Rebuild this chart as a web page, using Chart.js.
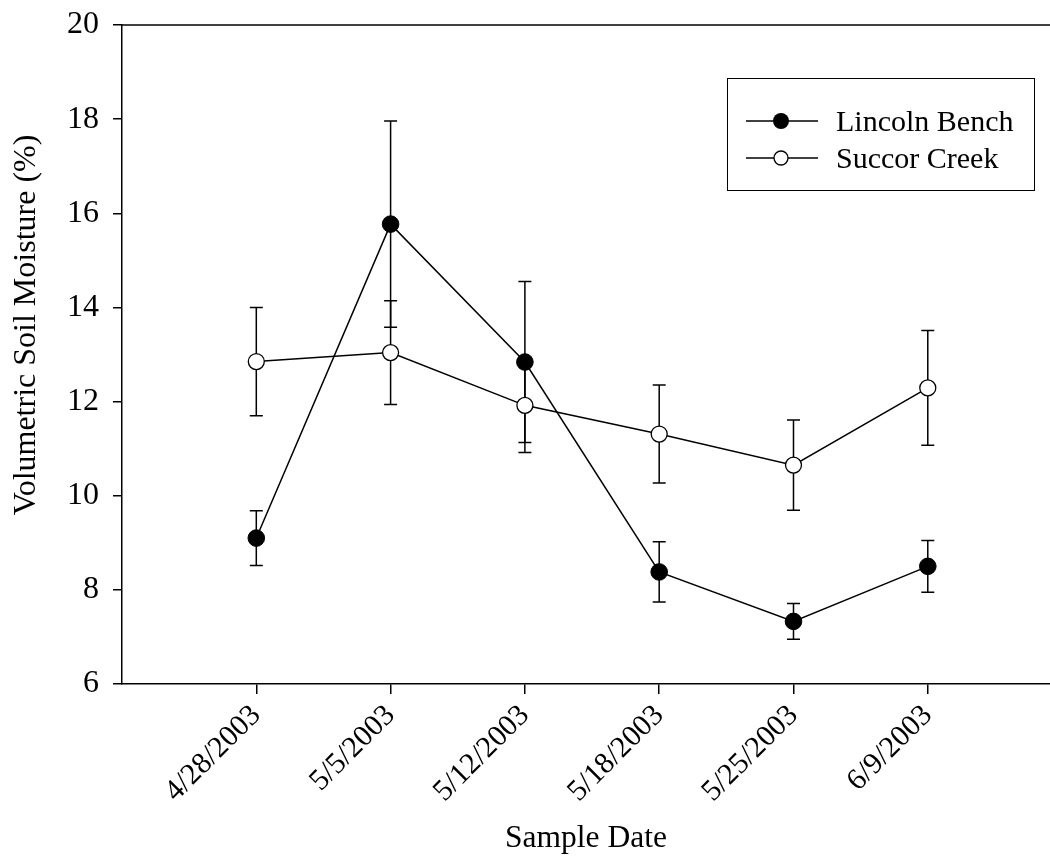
<!DOCTYPE html>
<html>
<head>
<meta charset="utf-8">
<script src="https://cdn.jsdelivr.net/npm/chart.js@4.4.0/dist/chart.umd.min.js"></script>
<style>
    html, body { margin: 0; padding: 0; background: #fff; overflow: hidden; }
    #wrap { position: relative; width: 1050px; height: 858px; }
    #chart1 { display: block; }
    #legend {
        position: absolute; left: 727px; top: 78px; width: 308px; height: 113px;
        border: 1.5px solid #000; box-sizing: border-box;
        font-family: "Liberation Serif", "Times New Roman", serif; font-size: 30px; color: #000;
    }
    .row { position: absolute; left: 0; height: 36px; display: flex; align-items: center; }
    .row svg { margin-left: 18px; margin-right: 18px; }
</style>
</head>
<body>
<div id="wrap">
    <canvas id="chart1" width="1050" height="858"></canvas>
    <div id="legend">
        <div class="row" style="top: 24px;">
            <svg width="72" height="20"><line x1="0" y1="10" x2="72" y2="10" stroke="#000" stroke-width="1.5"/><circle cx="35" cy="10" r="8" fill="#000"/></svg>
            <span>Lincoln Bench</span>
        </div>
        <div class="row" style="top: 61px;">
            <svg width="72" height="20"><line x1="0" y1="10" x2="72" y2="10" stroke="#000" stroke-width="1.5"/><circle cx="35" cy="10" r="7" fill="#fff" stroke="#000" stroke-width="1.3"/></svg>
            <span>Succor Creek</span>
        </div>
    </div>
</div>
<script>
const sampleDates = ['4/28/2003', '5/5/2003', '5/12/2003', '5/18/2003', '5/25/2003', '6/9/2003'];
const lincolnBench = [9.10, 15.77, 12.84, 8.38, 7.33, 8.50];
const lincolnSE = [0.58, 2.19, 1.71, 0.64, 0.38, 0.55];
const succorCreek = [12.85, 13.04, 11.92, 11.31, 10.65, 12.29];
const succorSE = [1.15, 1.10, 1.00, 1.04, 0.96, 1.22];
const yTicks = [6, 8, 10, 12, 14, 16, 18, 20];

const serif = '"Liberation Serif", "Times New Roman", serif';

function toPoints(values, errs) {
    return values.map((v, i) => ({ x: i, y: v, err: errs[i] }));
}

// error bars under the markers, plus the top frame line and y title
const errorBars = {
    id: 'errorBars',
    beforeDatasetsDraw(chart) {
        const ctx = chart.ctx;
        const xs = chart.scales.x, ys = chart.scales.y;
        ctx.save();
        ctx.strokeStyle = '#000';
        ctx.lineWidth = 1.5;
        chart.data.datasets.forEach(ds => {
            ds.data.forEach(p => {
                const px = xs.getPixelForValue(p.x);
                const top = ys.getPixelForValue(p.y + p.err);
                const bot = ys.getPixelForValue(p.y - p.err);
                ctx.beginPath();
                ctx.moveTo(px, top); ctx.lineTo(px, bot);
                ctx.moveTo(px - 6.5, top); ctx.lineTo(px + 6.5, top);
                ctx.moveTo(px - 6.5, bot); ctx.lineTo(px + 6.5, bot);
                ctx.stroke();
            });
        });
        ctx.restore();
    },
    afterDraw(chart) {
        const a = chart.chartArea;
        const ctx = chart.ctx;
        ctx.save();
        ctx.strokeStyle = '#000';
        ctx.lineWidth = 1.5;
        ctx.beginPath();
        ctx.moveTo(a.left, a.top);
        ctx.lineTo(a.right, a.top);
        ctx.stroke();

        ctx.translate(27, 325);
        ctx.rotate(-Math.PI / 2);
        ctx.fillStyle = '#000';
        ctx.font = '32px ' + serif;
        ctx.textAlign = 'center';
        ctx.textBaseline = 'middle';
        ctx.fillText('Volumetric Soil Moisture (%)', 0, 0);
        ctx.restore();
    }
};

const ctx = document.querySelector('#chart1').getContext('2d');
new Chart(ctx, {
    type: 'line',
    data: {
        datasets: [{
            label: 'Lincoln Bench',
            data: toPoints(lincolnBench, lincolnSE),
            borderColor: '#000',
            borderWidth: 1.5,
            backgroundColor: '#000',
            pointRadius: 8.3,
            pointBorderWidth: 1,
            pointBorderColor: '#000',
            pointBackgroundColor: '#000',
            tension: 0
        }, {
            label: 'Succor Creek',
            data: toPoints(succorCreek, succorSE),
            borderColor: '#000',
            borderWidth: 1.5,
            backgroundColor: '#fff',
            pointRadius: 8,
            pointBorderWidth: 1.3,
            pointBorderColor: '#000',
            pointBackgroundColor: '#fff',
            tension: 0
        }]
    },
    options: {
        responsive: false,
        animation: false,
        layout: { autoPadding: false, padding: { top: 25, left: 0, right: 0, bottom: 0 } },
        plugins: {
            legend: { display: false },
            tooltip: { enabled: false }
        },
        scales: {
            x: {
                type: 'linear',
                min: -1,
                max: 5.91,
                afterBuildTicks: scale => {
                    scale.ticks = sampleDates.map((d, i) => ({ value: i }));
                },
                afterFit: scale => {
                    scale.height = 174;
                    scale.paddingLeft = 0;
                    scale.paddingRight = 0;
                },
                grid: { drawOnChartArea: false, tickLength: 10, color: '#000', lineWidth: 1.5 },
                border: { color: '#000', width: 1.5 },
                ticks: {
                    autoSkip: false,
                    minRotation: 45,
                    maxRotation: 45,
                    padding: 4,
                    color: '#000',
                    font: { family: serif, size: 30 },
                    callback: v => sampleDates[v]
                },
                title: {
                    display: true,
                    text: 'Sample Date',
                    color: '#000',
                    font: { family: serif, size: 31.5 },
                    padding: { top: 0, bottom: 0 }
                }
            },
            y: {
                min: 6,
                max: 20,
                afterBuildTicks: scale => {
                    scale.ticks = yTicks.map(v => ({ value: v }));
                },
                afterFit: scale => {
                    scale.width = 122;
                    scale.paddingTop = 0;
                    scale.paddingBottom = 0;
                },
                grid: { drawOnChartArea: false, tickLength: 9, color: '#000', lineWidth: 1.5 },
                border: { color: '#000', width: 1.5 },
                ticks: {
                    padding: 14,
                    color: '#000',
                    font: { family: serif, size: 32 }
                }
            }
        }
    },
    plugins: [errorBars]
});
</script>
</body>
</html>
